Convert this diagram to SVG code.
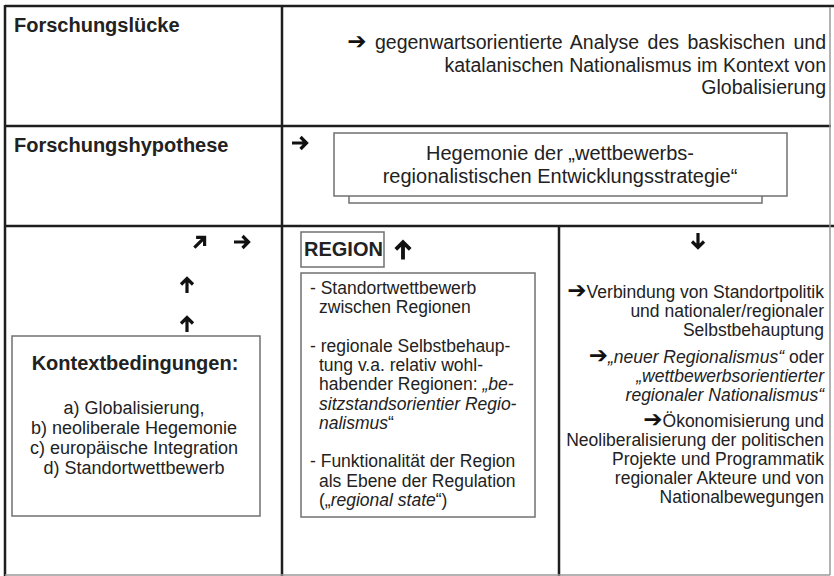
<svg xmlns="http://www.w3.org/2000/svg" width="834" height="576" viewBox="0 0 834 576">
<defs>
<style>
text{font-family:"Liberation Sans",Arial,sans-serif;fill:#222}
.h{font-weight:bold;font-size:20px}
.t{font-size:19.5px}
.s{font-size:17.5px}
.k{font-size:18px}
.i{font-style:italic}
.grid{stroke:#1e1e1e;stroke-width:2.5;fill:none}
.light{stroke:#9a9a9a;stroke-width:1.5;fill:none}
.box{fill:#fff;stroke:#707070;stroke-width:1.5}
.arr{fill:none;stroke:#111;stroke-width:3.2;stroke-linejoin:miter}
.ai{font-family:"DejaVu Sans",sans-serif;font-size:23px;font-weight:bold;fill:#111}
</style>
<path id="ra" class="arr" d="M-8,0 H6 M0.5,-6 L6.5,0 L0.5,6"/>
</defs>
<rect width="834" height="576" fill="#fff"/>
<g id="table">
<line class="grid" x1="5" y1="6" x2="834" y2="6"/>
<line class="grid" x1="5" y1="5" x2="5" y2="576"/>
<line class="grid" x1="5" y1="126" x2="831" y2="126"/>
<line class="grid" x1="5" y1="226" x2="834" y2="226"/>
<line class="grid" x1="282" y1="6" x2="282" y2="576"/>
<line class="grid" x1="559" y1="226" x2="559" y2="576"/>
<line class="light" x1="830" y1="7" x2="830" y2="575"/>
<line class="light" x1="5" y1="575" x2="830" y2="575"/>
</g>
<g id="forschungsluecke">
<text class="h" x="14" y="32">Forschungslücke</text>
</g>
<g id="luecke-text">
<text class="t" text-anchor="end" x="826" y="49" word-spacing="3"><tspan class="ai">➔</tspan> gegenwartsorientierte Analyse des baskischen und</text>
<text class="t" text-anchor="end" x="826" y="72">katalanischen Nationalismus im Kontext von</text>
<text class="t" text-anchor="end" x="826" y="94">Globalisierung</text>
</g>
<g id="forschungshypothese">
<text class="h" x="14" y="152">Forschungshypothese</text>
</g>
<g id="hypothese-box">
<rect class="box" x="349" y="185" width="413" height="18"/>
<rect class="box" x="334" y="133" width="453" height="63"/>
<text class="h" style="font-weight:normal" text-anchor="middle" x="560" y="160">Hegemonie der „wettbewerbs-</text>
<text class="h" style="font-weight:normal" text-anchor="middle" x="560" y="183">regionalistischen Entwicklungsstrategie“</text>
</g>
<g id="kontext">
<rect class="box" x="12" y="336" width="248" height="180"/>
<text class="h" text-anchor="middle" x="135" y="370">Kontextbedingungen:</text>
<text class="k" text-anchor="middle" x="134" y="414">a) Globalisierung,</text>
<text class="k" text-anchor="middle" x="134" y="434">b) neoliberale Hegemonie</text>
<text class="k" text-anchor="middle" x="134" y="454">c) europäische Integration</text>
<text class="k" text-anchor="middle" x="134" y="474">d) Standortwettbewerb</text>
</g>
<g id="region-label">
<rect class="box" x="301" y="232" width="83" height="35"/>
<text class="h" x="304" y="256">REGION</text>
</g>
<g id="region-box">
<rect class="box" x="301" y="273" width="234" height="244"/>
<text class="s" x="310" y="294">- Standortwettbewerb</text>
<text class="s" x="319" y="313">zwischen Regionen</text>
<text class="s" x="310" y="352">- regionale Selbstbehaup-</text>
<text class="s" x="319" y="371">tung v.a. relativ wohl-</text>
<text class="s" x="319" y="390">habender Regionen: <tspan class="i">„be-</tspan></text>
<text class="s i" x="319" y="410">sitzstandsorientier Regio-</text>
<text class="s" x="319" y="429"><tspan class="i">nalismus</tspan>“</text>
<text class="s" x="310" y="467">- Funktionalität der Region</text>
<text class="s" x="319" y="487">als Ebene der Regulation</text>
<text class="s" x="319" y="506">(„<tspan class="i">regional state</tspan>“)</text>
</g>
<g id="folgen">
<text class="s" text-anchor="end" x="824" y="298"><tspan class="ai">➔</tspan>Verbindung von Standortpolitik</text>
<text class="s" text-anchor="end" x="824" y="317">und nationaler/regionaler</text>
<text class="s" text-anchor="end" x="824" y="336">Selbstbehauptung</text>
<text class="s" text-anchor="end" x="824" y="363"><tspan class="ai">➔</tspan><tspan class="i">„neuer Regionalismus“</tspan><tspan dx="5">oder</tspan></text>
<text class="s i" text-anchor="end" x="824" y="382">„wettbewerbsorientierter</text>
<text class="s i" text-anchor="end" x="824" y="401">regionaler Nationalismus“</text>
<text class="s" text-anchor="end" x="824" y="427"><tspan class="ai">➔</tspan>Ökonomisierung und</text>
<text class="s" text-anchor="end" x="824" y="446">Neoliberalisierung der politischen</text>
<text class="s" text-anchor="end" x="824" y="465">Projekte und Programmatik</text>
<text class="s" text-anchor="end" x="824" y="484">regionaler Akteure und von</text>
<text class="s" text-anchor="end" x="824" y="503">Nationalbewegungen</text>
</g>
<g id="connectors">
<use href="#ra" transform="translate(300,143)"/>
<use href="#ra" transform="translate(200,242) rotate(-45)"/>
<use href="#ra" transform="translate(242,242)"/>
<use href="#ra" transform="translate(187,285) rotate(-90)"/>
<use href="#ra" transform="translate(187,324) rotate(-90)"/>
<use href="#ra" transform="translate(403,250) rotate(-90) scale(1.2)"/>
<use href="#ra" transform="translate(698,241) rotate(90)"/>
</g>
</svg>
